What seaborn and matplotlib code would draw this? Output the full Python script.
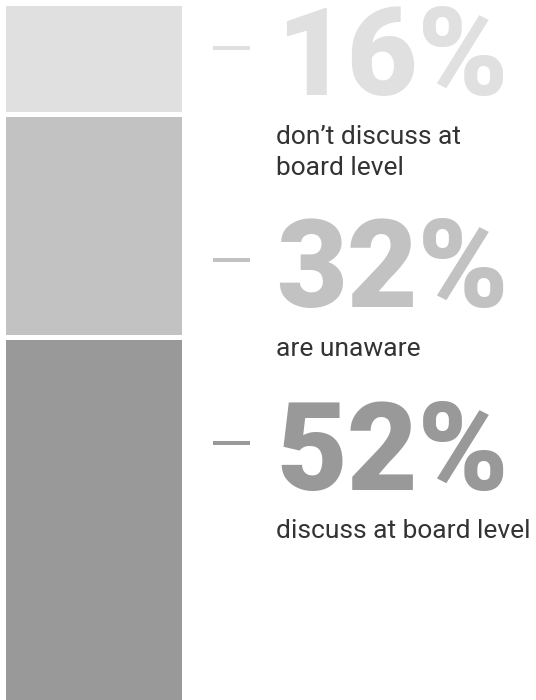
import matplotlib
matplotlib.use("Agg")
import matplotlib.pyplot as plt
from matplotlib import font_manager
import seaborn as sns
import pandas as pd
import numpy as np

# ---- data ----
labels = ["16%", "32%", "52%"]
values = [16, 32, 52]
descriptions = ["don\u2019t discuss at\nboard level", "are unaware", "discuss at board level"]
colors = ["#e0e0e0", "#c2c2c2", "#999999"]

sns.set_theme(style="white")
plt.rcParams["font.family"] = ["Roboto", "DejaVu Sans"]

weights = {f.weight for f in font_manager.fontManager.ttflist if f.name == "Roboto"}
num_weight = "black" if any(w in (900, "black", "heavy") for w in weights) else "bold"

W, H = 536, 700
fig = plt.figure(figsize=(W / 100, H / 100), dpi=100)

# bar axes: x 6..182 px, y 2.5..700 px
bx0, bx1 = 6, 182
by0, by1 = 2.5, 700
ax = fig.add_axes([bx0 / W, 1 - by1 / H, (bx1 - bx0) / W, (by1 - by0) / H])

cum = np.cumsum(values)
# draw cumulative bars back to front (largest first)
for i in range(len(values) - 1, -1, -1):
    df = pd.DataFrame({"cat": ["all"], "val": [cum[i]]})
    sns.barplot(data=df, x="cat", y="val", color=colors[i], width=1.0,
                saturation=1, edgecolor="none", linewidth=0, ax=ax)
ax.set_xlim(-0.5, 0.5)
ax.set_ylim(cum[-1], 0)
gap_pt = 5 * 0.72
for b in [0] + list(cum[:-1]):
    ax.axhline(b, color="white", lw=gap_pt)
ax.axis("off")

# annotation overlay in pixel coordinates
ov = fig.add_axes([0, 0, 1, 1])
ov.set_xlim(0, W)
ov.set_ylim(H, 0)
ov.axis("off")

num_baselines = [95, 307, 490]
dash_y = [48, 260, 443]
desc_baselines = [144, 356, 538]
line_px = 31
for lab, col, nb, dy, desc, db in zip(labels, colors, num_baselines, dash_y,
                                      descriptions, desc_baselines):
    ov.plot([213, 250], [dy, dy], color=col, lw=4 * 0.72, solid_capstyle="butt")
    ov.text(276, nb, lab, fontsize=88, fontweight=num_weight, color=col,
            ha="left", va="baseline")
    for k, line in enumerate(desc.split("\n")):
        ov.text(276, db + k * line_px, line, fontsize=19, color="#333333",
                ha="left", va="baseline")

fig.savefig("out.png", dpi=100)
